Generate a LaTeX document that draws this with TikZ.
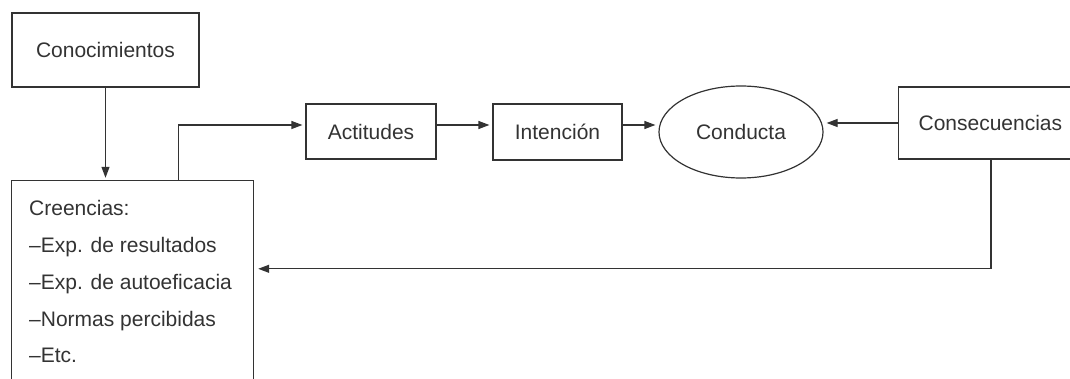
\documentclass[tikz,border=0pt]{standalone}
\usepackage{fontspec}
\setmainfont{Liberation Sans}
\usetikzlibrary{calc,arrows.meta,shapes.geometric}
\definecolor{ink}{HTML}{333333}
\begin{document}
\begin{tikzpicture}[x=1pt,y=-1pt,
  every node/.style={font=\fontsize{21}{25}\selectfont, text=ink},
  box/.style={draw=ink, line width=1.2pt, rectangle, inner sep=0pt},
  arr/.style={draw=ink, line width=1.2pt, -{Triangle[length=11pt,width=8pt]}, shorten >=3pt},
  ln/.style={draw=ink, line width=1.2pt}]
\useasboundingbox (0,0) rectangle (1070,379);
\clip (0,0) rectangle (1070,379);

\node[box, minimum width=187pt, minimum height=74pt] (con) at (105.5,50) {Conocimientos};

\node[rectangle, inner sep=0pt, minimum width=241pt, minimum height=240pt] (cre) at (132.5,301) {};
\draw[ln] (cre.south west) |- (cre.north east) -- (cre.south east);
\node[anchor=base west, inner sep=0pt] (c1) at (29,216) {Creencias:};
\node[anchor=base west, inner sep=0pt] (c2) at (29,253) {–Exp. de resultados};
\node[anchor=base west, inner sep=0pt] (c3) at (29,289.5) {–Exp. de autoeficacia};
\node[anchor=base west, inner sep=0pt] (c4) at (29,326) {–Normas percibidas};
\node[anchor=base west, inner sep=0pt] (c5) at (29,362.5) {–Etc.};

\node[box, minimum width=130pt, minimum height=55pt] (act) at (371,131.5) {Actitudes};
\node[box, minimum width=129pt, minimum height=56pt] (int) at (557.5,132) {Intención};
\node[ellipse, draw=ink, line width=1.2pt, minimum width=164pt, minimum height=92pt, inner sep=0pt] (cond) at (741,132) {Conducta};
\node[box, anchor=west, minimum height=72pt, inner xsep=20pt] (cons) at (898,123) {Consecuencias};

\draw[arr] (con.south) -- (con.south |- cre.north);
\draw[arr] ($(cre.north west)+(167,0)$) |- ([yshift=6.5pt]act.west);
\draw[arr] ([yshift=6.5pt]act.east) -- ([yshift=6.5pt]act.east -| int.west);
\draw[arr] ([yshift=7pt]int.east) -- ([yshift=7pt]int.east -| cond.west);
\draw[arr] (cons.west) -- (cons.west -| cond.east);
\draw[arr, shorten >=5pt] ($(cons.south west)+(93,0)$) |- ($(cre.north east)+(0,88)$);
\end{tikzpicture}
\end{document}
